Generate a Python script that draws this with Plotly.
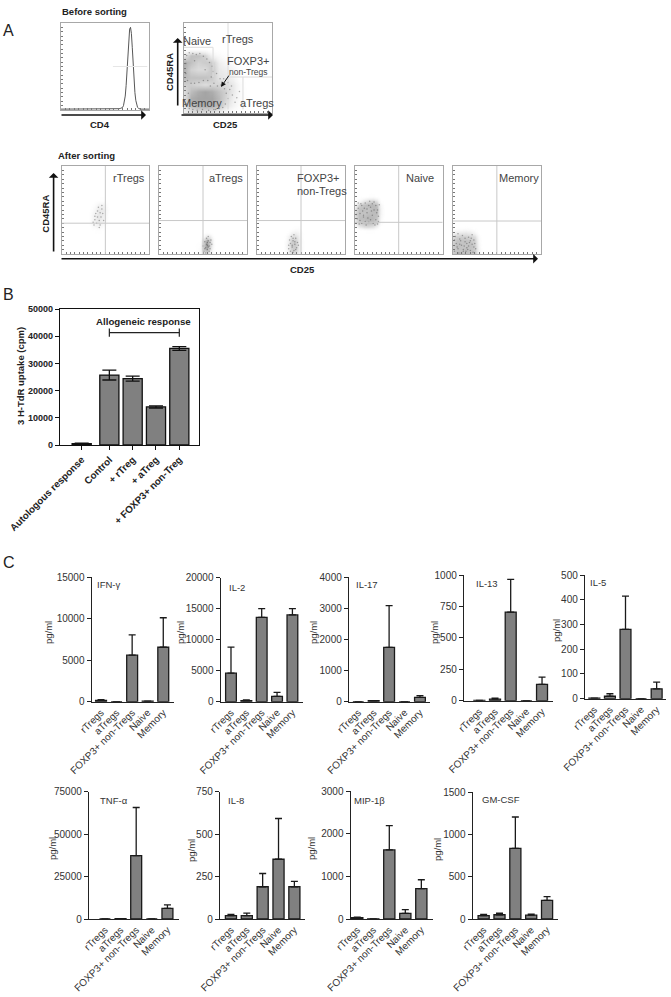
import plotly.graph_objects as go

W, H = 671, 997
FONT = "Liberation Sans"

# ---------- Panel B data ----------
b_labels = ["Autologous response", "Control", "+ rTreg", "+ aTreg", "+ FOXP3+ non-Treg"]
b_values = [500, 25700, 24400, 14000, 35500]
b_errors = [150, 1800, 900, 400, 700]
b_ticks = [0, 10000, 20000, 30000, 40000, 50000]
b_bracket_level = 41300

# ---------- Panel C data ----------
populations = ["rTregs", "aTregs", "FOXP3+ non-Tregs", "Naive", "Memory"]
ifn_mean = [150, 0, 5600, 80, 6550]
ifn_top = [250, 0, 8050, 80, 10100]
il2_mean = [4600, 150, 13600, 850, 14000]
il2_top = [8800, 280, 15000, 1500, 15000]
il17_mean = [0, 30, 1750, 0, 140]
il17_top = [0, 30, 3090, 0, 193]
il13_mean = [2, 12, 705, 0, 130]
il13_top = [2, 20, 965, 0, 187]
il5_mean = [2, 10, 280, 0, 40]
il5_top = [2, 20, 415, 0, 67]
tnf_mean = [0, 200, 37300, 0, 6300]
tnf_top = [0, 200, 65700, 0, 8300]
il8_mean = [20, 20, 190, 352, 190]
il8_top = [27, 35, 268, 592, 222]
mip_mean = [30, 5, 1620, 130, 710]
mip_top = [45, 5, 2190, 220, 920]
gm_mean = [40, 50, 835, 45, 220]
gm_top = [55, 68, 1205, 58, 265]

ifn_ticks = [0, 5000, 10000, 15000]
il2_ticks = [0, 5000, 10000, 15000, 20000]
il17_ticks = [0, 1000, 2000, 3000, 4000]
il13_ticks = [0, 250, 500, 750, 1000]
il5_ticks = [0, 100, 200, 300, 400, 500]
tnf_ticks = [0, 25000, 50000, 75000]
il8_ticks = [0, 250, 500, 750]
mip_ticks = [0, 1000, 2000, 3000]
gm_ticks = [0, 500, 1000, 1500]

# ---------- Panel A data: CD4 histogram ----------
hist_x = [0, 10, 20, 30, 40, 50, 60, 66, 68, 70, 71, 72, 73, 74, 75, 76, 77, 78, 79, 80, 81, 82, 83, 84, 85, 86, 87, 88, 90, 100]
hist_y = [1, 1, 1, 1.5, 1, 1, 1, 1.5, 2, 3, 5, 9, 16, 28, 45, 66, 84, 93, 95, 88, 72, 52, 34, 20, 11, 6, 3, 2, 1, 1]

# ---------- Panel A data: flow density grids (axes run 0-100) ----------
main_x = [0, 8, 16, 24, 32, 40, 48, 56, 64, 72, 80]
main_y = [0, 8, 16, 24, 32, 40, 48, 56, 64, 72, 80]
main_z = [
    [.25, .40, .45, .45, .40, .30, .20, .10, .05, 0, 0],
    [.45, .72, .78, .78, .78, .68, .45, .30, .15, .05, 0],
    [.50, .78, .82, .82, .82, .72, .55, .35, .20, .08, 0],
    [.50, .70, .78, .82, .78, .68, .58, .40, .20, .05, 0],
    [.60, .60, .55, .50, .55, .55, .50, .40, .20, .03, 0],
    [.72, .68, .68, .68, .62, .45, .40, .30, .12, 0, 0],
    [.78, .58, .52, .52, .66, .40, .35, .25, .10, 0, 0],
    [.78, .68, .58, .62, .62, .35, .25, .15, .05, 0, 0],
    [.45, .68, .68, .58, .30, .20, .10, .05, 0, 0, 0],
    [.05, .10, .10, .08, .05, .03, 0, 0, 0, 0, 0],
    [0, 0, 0, 0, 0, 0, 0, 0, 0, 0, 0],
]
main_dots_x = [3, 6, 10, 14, 18, 22, 26, 29, 32, 33, 31, 2, 2, 4, 8, 12, 17, 22, 27, 30, 34, 38, 42, 46, 48, 50, 47, 44, 40, 36, 6, 3, 5, 10, 15, 21, 28, 34, 52, 55, 58, 45, 50, 54, 60, 63, 37, 41, 24, 12]
main_dots_y = [64, 67, 66, 65, 66, 63, 60, 56, 52, 46, 40, 55, 44, 36, 33, 33, 34, 36, 36, 30, 33, 30, 31, 27, 22, 16, 10, 6, 5, 4, 5, 10, 22, 4, 3, 4, 3, 4, 26, 20, 12, 38, 34, 30, 17, 24, 44, 38, 48, 58]

rt_x = [30, 36, 42, 48, 54]
rt_y = [26, 32, 38, 44, 50, 56, 62]
rt_z = [[0, .04, .10, .05, 0], [.03, .22, .30, .18, 0], [.06, .30, .42, .30, .03], [.04, .28, .42, .36, .05],
        [0, .20, .40, .38, .06], [0, .10, .30, .30, .04], [0, 0, .06, .08, 0]]
rt_dots_x = [37, 38, 40, 41, 43, 44, 45, 46, 47, 42, 39, 36, 44, 48, 41, 43, 46, 38]
rt_dots_y = [33, 39, 35, 42, 38, 47, 42, 51, 46, 53, 46, 36, 33, 38, 49, 30, 55, 43]

at_x = [32, 40, 46, 50, 54, 58, 62, 66]
at_y = [0, 5, 10, 15, 20, 25, 30]
at_z = [[.02, .05, .14, .36, .50, .30, .08, 0], [.03, .06, .16, .55, .78, .50, .12, 0], [.03, .05, .12, .58, .88, .62, .16, 0],
        [.02, .03, .06, .48, .80, .62, .18, 0], [0, .02, .03, .20, .44, .40, .08, 0], [0, 0, 0, .05, .12, .10, 0, 0], [0, 0, 0, 0, 0, 0, 0, 0]]
at_dots_x = [51, 53, 54, 55, 56, 57, 58, 60, 52, 54, 56, 58, 55, 53, 59, 50, 57, 55, 52, 56]
at_dots_y = [3, 7, 11, 5, 15, 9, 13, 11, 14, 18, 20, 6, 10, 1, 16, 9, 3, 13, 6, 8]

fx_x = [30, 35, 39, 43, 47, 51, 55]
fx_y = [0, 5, 10, 15, 20, 25, 30, 35]
fx_z = [[.04, .28, .48, .50, .34, .12, 0], [.06, .34, .58, .60, .42, .14, 0], [.06, .38, .62, .64, .44, .14, 0],
        [.05, .34, .60, .62, .42, .14, 0], [.02, .26, .46, .48, .36, .12, 0], [0, .10, .24, .30, .26, .08, 0],
        [0, .02, .06, .12, .14, .04, 0], [0, 0, 0, 0, 0, 0, 0]]
fx_dots_x = [36, 38, 40, 41, 42, 43, 44, 45, 39, 37, 43, 41, 46, 38, 42, 40, 44, 36, 47, 41]
fx_dots_y = [6, 12, 8, 15, 4, 11, 18, 7, 20, 16, 14, 2, 13, 3, 22, 10, 5, 10, 10, 18]

na_x = [0, 5, 10, 15, 20, 25, 30, 35]
na_y = [26, 31, 36, 41, 46, 51, 56, 61, 66]
na_z = [[0, 0, .05, .08, .08, .04, 0, 0], [.15, .38, .50, .52, .46, .30, .06, 0], [.34, .62, .68, .70, .68, .58, .18, 0],
        [.46, .70, .70, .74, .72, .66, .24, 0], [.52, .68, .66, .70, .70, .70, .28, 0], [.42, .68, .70, .66, .72, .72, .28, 0],
        [.24, .58, .68, .72, .72, .68, .24, 0], [.04, .22, .40, .50, .56, .44, .10, 0], [0, 0, .02, .06, .08, .04, 0, 0]]
na_dots_x = [2, 4, 6, 8, 10, 12, 14, 16, 18, 20, 22, 24, 26, 27, 28, 5, 9, 13, 17, 21, 25, 3, 7, 11, 15, 19, 23, 27, 6, 12, 18, 24, 10, 16, 22, 8, 14, 20, 26, 4]
na_dots_y = [45, 52, 38, 55, 42, 58, 47, 36, 53, 44, 59, 39, 50, 43, 56, 34, 49, 33, 60, 35, 47, 40, 57, 52, 41, 49, 33, 37, 46, 37, 39, 55, 44, 55, 50, 35, 51, 57, 34, 58]

me_x = [0, 5, 10, 15, 20, 25, 30, 34]
me_y = [0, 5, 10, 15, 20, 25, 30, 34]
me_z = [[.60, .68, .70, .68, .68, .66, .30, 0], [.60, .66, .68, .70, .66, .62, .28, 0], [.60, .70, .66, .66, .68, .60, .26, 0],
        [.56, .66, .66, .68, .62, .58, .22, 0], [.48, .58, .60, .58, .56, .48, .18, 0], [.26, .36, .38, .40, .34, .24, .06, 0],
        [.02, .06, .08, .10, .08, .04, 0, 0], [0, 0, 0, 0, 0, 0, 0, 0]]
me_dots_x = [2, 4, 6, 8, 10, 12, 14, 16, 18, 20, 22, 24, 26, 3, 7, 11, 15, 19, 23, 5, 9, 13, 17, 21, 25, 2, 6, 10, 14, 18, 22, 8, 16, 24, 12, 20]
me_dots_y = [3, 12, 6, 17, 10, 3, 14, 7, 19, 4, 11, 16, 6, 20, 1, 21, 3, 13, 2, 8, 15, 9, 5, 18, 12, 16, 23, 1, 18, 9, 22, 11, 12, 8, 5, 15]

fig = go.Figure()
layout_axes = {}
shapes = []
annotations = []
axis_count = 0


def new_axes(left, right, top, bottom, xopts, yopts):
    global axis_count
    axis_count += 1
    n = "" if axis_count == 1 else str(axis_count)
    layout_axes["xaxis" + n] = dict(domain=[left / W, right / W], anchor="y" + n, automargin=False, **xopts)
    layout_axes["yaxis" + n] = dict(domain=[1 - bottom / H, 1 - top / H], anchor="x" + n, automargin=False, **yopts)
    return "x" + n, "y" + n


def text(x, y, s, size=9.5, color="#333333", bold=False, angle=0, anchor="center"):
    annotations.append(dict(
        xref="paper", yref="paper", x=x / W, y=1 - y / H, text=("<b>%s</b>" % s) if bold else s,
        showarrow=False, textangle=angle, xanchor=anchor, yanchor="middle",
        font=dict(family=FONT, size=size, color=color), borderpad=0, borderwidth=0,
    ))


def arrow(x0, y0, x1, y1, width=1.6, head=1, size=1.0, color="#111111"):
    annotations.append(dict(
        xref="paper", yref="paper", x=x1 / W, y=1 - y1 / H, text="", showarrow=True,
        ax=x0 - x1, ay=y0 - y1, arrowhead=head, arrowsize=size, arrowwidth=width, arrowcolor=color,
    ))


def flow_axes(left, right, top, bottom):
    common = dict(range=[0, 100], showgrid=False, zeroline=False, showticklabels=False, showline=True,
                  mirror=True, linecolor="#a8a8a8", linewidth=1, ticks="inside", ticklen=2, tickwidth=1,
                  tickcolor="#777777", dtick=5)
    return new_axes(left, right, top, bottom, dict(common), dict(common))


def gate(xa, ya, x0, y0, x1, y1, color="#c8c8c8"):
    shapes.append(dict(type="line", xref=xa, yref=ya, x0=x0, y0=y0, x1=x1, y1=y1,
                       line=dict(color=color, width=1), layer="above"))


def cloud(xa, ya, x, y, z, dx, dy):
    fig.add_trace(go.Heatmap(x=x, y=y, z=z, xaxis=xa, yaxis=ya, zmin=0, zmax=1, zsmooth="best", showscale=False,
                             hoverinfo="skip",
                             colorscale=[[0, "rgba(255,255,255,0)"], [1, "rgb(120,120,120)"]]))
    fig.add_trace(go.Scatter(x=dx, y=dy, xaxis=xa, yaxis=ya, mode="markers", hoverinfo="skip",
                             marker=dict(size=1.5, color="#3c3c3c", opacity=0.4, line=dict(width=0))))


# ---------- Panel A: histogram ----------
xa, ya = flow_axes(61, 149, 23, 110)
gate(xa, ya, 59, 50, 98, 50, "#e6e6e6")
fig.add_trace(go.Scatter(x=hist_x, y=hist_y, xaxis=xa, yaxis=ya, mode="lines", hoverinfo="skip",
                         line=dict(color="#444444", width=0.9)))

# ---------- Panel A: two-colour plot before sorting ----------
xa, ya = flow_axes(184, 272, 23, 113)
cloud(xa, ya, main_x, main_y, main_z, main_dots_x, main_dots_y)
main_gate = "#dcdcdc"
gate(xa, ya, 0, 73, 33, 73, main_gate)
gate(xa, ya, 33, 40, 33, 73, main_gate)
gate(xa, ya, 50, 100, 50, 4, main_gate)
gate(xa, ya, 50, 40, 100, 40, main_gate)
gate(xa, ya, 67, 40, 67, 4, main_gate)

# ---------- Panel A: after sorting ----------
after_panels = [
    (61.7, 149, 50, 35, rt_x, rt_y, rt_z, rt_dots_x, rt_dots_y),
    (159, 247, 50, 38, at_x, at_y, at_z, at_dots_x, at_dots_y),
    (257, 345, 50, 38, fx_x, fx_y, fx_z, fx_dots_x, fx_dots_y),
    (354.7, 442.7, 50, 36, na_x, na_y, na_z, na_dots_x, na_dots_y),
    (452.7, 541, 50, 37.5, me_x, me_y, me_z, me_dots_x, me_dots_y),
]
for left, right, gx, gy, cx, cy, cz, dx, dy in after_panels:
    xa, ya = flow_axes(left, right, 166, 254)
    cloud(xa, ya, cx, cy, cz, dx, dy)
    gate(xa, ya, gx, 0, gx, 100)
    gate(xa, ya, 0, gy, 100, gy)

text(62, 11.5, "Before sorting", size=9.5, color="#222222", bold=True, anchor="left")
text(58, 155.5, "After sorting", size=9.5, color="#222222", bold=True, anchor="left")
text(8, 30, "A", size=16, color="#222222")
text(8, 294, "B", size=16, color="#222222")
text(9, 562, "C", size=16, color="#222222")
text(100, 125, "CD4", size=9.5, color="#222222", bold=True)
text(225, 125, "CD25", size=9.5, color="#222222", bold=True)
text(169, 72, "CD45RA", size=9.5, color="#222222", bold=True, angle=-90)
text(302.5, 269, "CD25", size=9.5, color="#222222", bold=True)
text(45.7, 214, "CD45RA", size=9.5, color="#222222", bold=True, angle=-90)

text(197, 41, "Naive", size=11, color="#444444")
text(238, 39, "rTregs", size=11, color="#444444")
text(248, 61, "FOXP3+", size=11, color="#444444")
text(248, 72, "non-Tregs", size=8.5, color="#444444")
text(202, 103, "Memory", size=11, color="#444444")
text(257, 103, "aTregs", size=11, color="#444444")
text(128.6, 178, "rTregs", size=11, color="#444444")
text(226, 178, "aTregs", size=11, color="#444444")
text(297, 178, "FOXP3+", size=11, color="#444444", anchor="left")
text(297, 191, "non-Tregs", size=11, color="#444444", anchor="left")
text(420, 178, "Naive", size=11, color="#444444")
text(519, 178, "Memory", size=11, color="#444444")

arrow(60, 115, 146, 115)
arrow(180, 115, 273, 115)
arrow(177.7, 107, 177.7, 38)
arrow(230, 74, 221, 87, width=1, head=2)
arrow(60, 258.7, 538, 258.7)
arrow(53.6, 253, 53.6, 173)

# ---------- Panel B ----------
b_positions = [0, 1.186, 2.186, 3.186, 4.186]
xa, ya = new_axes(
    60, 199, 309, 445,
    dict(range=[-0.93, 5.03], tickmode="array", tickvals=b_positions, ticktext=b_labels, tickangle=-45,
         showline=True, mirror=True, linecolor="#111111", linewidth=1.3, ticks="outside", ticklen=4, tickwidth=1.2,
         tickcolor="#111111", showgrid=False, zeroline=False,
         tickfont=dict(family=FONT, size=9.8, color="#222222", weight="bold")),
    dict(range=[0, 50000], tickmode="array", tickvals=b_ticks, tickformat="d", showline=True, mirror=True,
         linecolor="#111111", linewidth=1.3, ticks="outside", ticklen=4, tickwidth=1.2, tickcolor="#111111",
         showgrid=False, zeroline=False, tickfont=dict(family=FONT, size=9, color="#222222", weight="bold")),
)
fig.add_trace(go.Bar(x=b_positions, y=b_values, width=0.82, xaxis=xa, yaxis=ya, hoverinfo="skip",
                     marker=dict(color="#808080", line=dict(color="#111111", width=1.3)),
                     error_y=dict(type="data", array=b_errors, color="#111111", thickness=1.3, width=7)))
fig.add_trace(go.Scatter(x=[b_positions[1], b_positions[4]], y=[b_bracket_level, b_bracket_level], xaxis=xa, yaxis=ya,
                         mode="lines", hoverinfo="skip", line=dict(color="#222222", width=1.2),
                         error_y=dict(type="constant", value=1500, color="#222222", thickness=1.2, width=0)))
text(143, 321.5, "Allogeneic response", size=9.7, color="#222222", bold=True)
text(21, 376, "3 H-TdR uptake (cpm)", size=9.5, color="#222222", bold=True, angle=-90)

# ---------- Panel C ----------
cytokine_panels = [
    ("IFN-γ", ifn_mean, ifn_top, ifn_ticks, 91.7, 174, 577, 701.7, -0.6, 4.69, 109, 584, 48, 633),
    ("IL-2", il2_mean, il2_top, il2_ticks, 220.7, 303, 577.7, 701.7, -0.67, 4.69, 237, 587, 180, 633),
    ("IL-17", il17_mean, il17_top, il17_ticks, 349, 430, 577.3, 701.7, -0.6, 4.65, 367, 584, 313, 633),
    ("IL-13", il13_mean, il13_top, il13_ticks, 464, 553, 575, 700.7, -0.98, 4.7, 487, 583, 434, 633),
    ("IL-5", il5_mean, il5_top, il5_ticks, 585, 666, 575, 698.7, -0.6, 4.6, 598, 582, 556, 631),
    ("TNF-α", tnf_mean, tnf_top, tnf_ticks, 89, 179, 791.7, 919, -1.02, 4.74, 114, 800, 52, 849),
    ("IL-8", il8_mean, il8_top, il8_ticks, 220, 305, 791.7, 919, -0.69, 4.67, 236, 800, 191, 850),
    ("MIP-1β", mip_mean, mip_top, mip_ticks, 350.7, 432.7, 791, 919, -0.41, 4.71, 370, 800, 311, 849),
    ("GM-CSF", gm_mean, gm_top, gm_ticks, 472.7, 558, 792, 919, -0.69, 4.69, 500.7, 799, 437, 850),
]
for name, mean, top, ticks, left, right, y_top, y_bot, r0, r1, tx, ty, px, py in cytokine_panels:
    xa, ya = new_axes(
        left, right, y_top, y_bot,
        dict(range=[r0, r1], type="linear", tickmode="array", tickvals=list(range(5)), ticktext=populations, tickangle=-45,
             showline=True, linecolor="#222222", linewidth=1.4, ticks="", showgrid=False, zeroline=False,
             tickfont=dict(family=FONT, size=10, color="#333333")),
        dict(range=[0, ticks[-1]], tickmode="array", tickvals=ticks, tickformat="d", showline=True, linecolor="#222222",
             linewidth=1.4, ticks="outside", ticklen=4, tickwidth=1.2, tickcolor="#222222", showgrid=False, zeroline=False,
             tickfont=dict(family=FONT, size=10, color="#333333")),
    )
    fig.add_trace(go.Bar(x=list(range(5)), y=mean, width=0.7, xaxis=xa, yaxis=ya, hoverinfo="skip",
                         marker=dict(color="#808080", line=dict(color="#1a1a1a", width=1.3)),
                         error_y=dict(type="data", symmetric=False, array=[t - m for t, m in zip(top, mean)],
                                      arrayminus=[0] * 5, color="#1a1a1a", thickness=1.3, width=3.5)))
    text(tx, ty, name, size=9.5, color="#333333")
    text(px, py, "pg/ml", size=9.5, color="#333333", angle=-90)

fig.update_layout(
    template="none", width=W, height=H, margin=dict(l=0, r=0, t=0, b=0, pad=0), paper_bgcolor="white",
    plot_bgcolor="white", showlegend=False, barmode="overlay", shapes=shapes, annotations=annotations, **layout_axes,
)
fig.write_html("out.html", config=dict(displayModeBar=False),
               post_script="document.body.style.margin='0';document.documentElement.style.overflow='hidden';")
